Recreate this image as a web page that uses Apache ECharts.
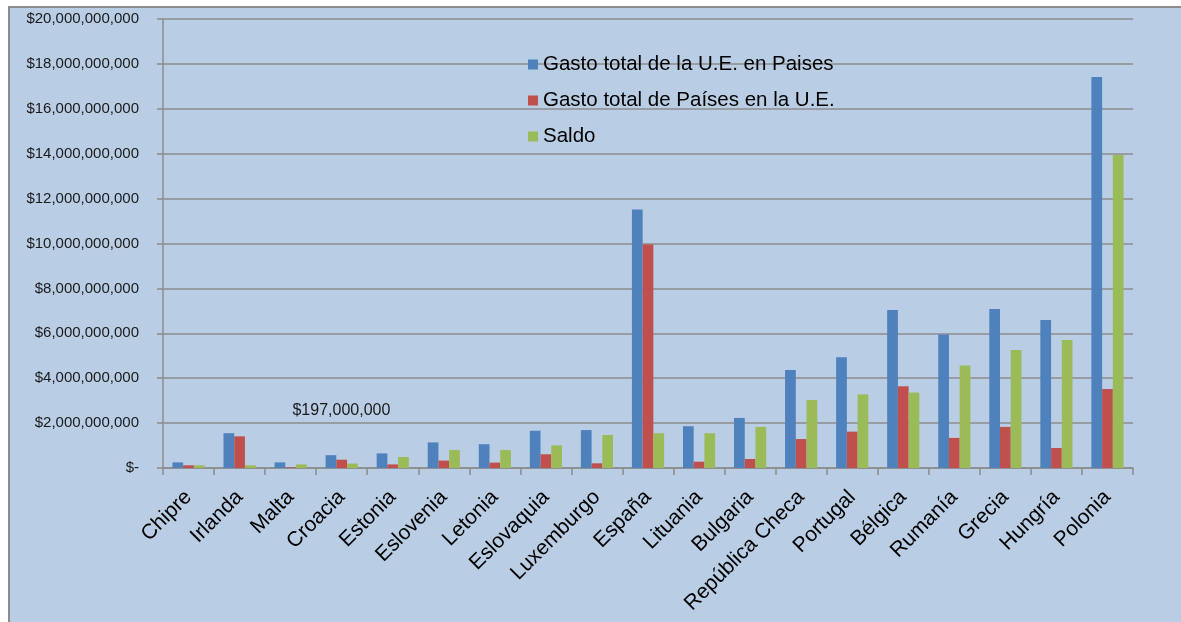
<!DOCTYPE html>
<html>
<head>
<meta charset="utf-8">
<script src="https://cdn.jsdelivr.net/npm/echarts@6/dist/echarts.min.js"></script>
<style>
    body { margin: 0; background: #fff; }
    #main {
        margin-left: 8px;
        margin-top: 6px;
        width: 1171px;
        height: 614px;
        border-left: 2px solid #8c8c8c;
        border-top: 2px solid #8c8c8c;
        background: #b9cde5;
    }
</style>
</head>
<body>
<div id="main"></div>
<script>
const paises = ['Chipre', 'Irlanda', 'Malta', 'Croacia', 'Estonia', 'Eslovenia', 'Letonia', 'Eslovaquia', 'Luxemburgo', 'España',
    'Lituania', 'Bulgaria', 'República Checa', 'Portugal', 'Bélgica', 'Rumanía', 'Grecia', 'Hungría', 'Polonia']

// valores en miles de millones
const gastoUE = [0.25, 1.55, 0.25, 0.57, 0.65, 1.14, 1.06, 1.66, 1.69, 11.52,
    1.86, 2.23, 4.37, 4.93, 7.04, 5.95, 7.08, 6.59, 17.42]
const gastoPaises = [0.12, 1.41, 0.03, 0.37, 0.16, 0.33, 0.24, 0.61, 0.21, 9.96,
    0.28, 0.40, 1.29, 1.62, 3.64, 1.34, 1.83, 0.89, 3.52]
const saldo = [0.12, 0.12, 0.16, 0.197, 0.49, 0.80, 0.80, 1.01, 1.47, 1.55,
    1.55, 1.83, 3.03, 3.28, 3.36, 4.57, 5.26, 5.70, 13.94]

const etiquetaCroacia = '$197,000,000'

const colors = ['#4f81bd', '#c0504d', '#9bbb59']
const names = ['Gasto total de la U.E. en Paises', 'Gasto total de Países en la U.E.', 'Saldo']

const toMoney = v => {
    if (v === 0) return '$-'
    return '$' + Math.round(v * 1e9).toLocaleString('en-US')
}

const myChart = echarts.init(document.getElementById('main'))

const series = [gastoUE, gastoPaises, saldo].map((vals, idx) => {
    return {
        name: names[idx],
        type: 'bar',
        barGap: '0%',
        barCategoryGap: '37%',
        itemStyle: { color: colors[idx] },
        data: vals.map((v, i) => {
            if (idx === 2 && paises[i] === 'Croacia') {
                return {
                    value: v,
                    label: {
                        show: true,
                        position: 'top',
                        offset: [-11, -40],
                        formatter: etiquetaCroacia,
                        color: '#1a1a1a',
                        fontFamily: 'Liberation Sans',
                        fontSize: 16
                    }
                }
            }
            return v
        })
    }
})

const option = {
    animation: false,
    backgroundColor: 'transparent',
    legend: {
        orient: 'vertical',
        left: 513,
        top: 41,
        icon: 'rect',
        itemWidth: 10,
        itemHeight: 10,
        itemGap: 15,
        textStyle: {
            color: '#000',
            fontFamily: 'Liberation Sans',
            fontSize: 20.5,
            lineHeight: 20
        },
        data: names
    },
    grid: {
        left: 153,
        top: 11,
        right: 48,
        bottom: 154
    },
    xAxis: {
        type: 'category',
        data: paises,
        axisLine: { lineStyle: { color: '#8c8c8c', width: 1.5 } },
        axisTick: { show: true, length: 7, lineStyle: { color: '#8c8c8c', width: 1.5 } },
        axisLabel: {
            interval: 0,
            rotate: 45,
            margin: 26,
            color: '#000',
            fontFamily: 'Liberation Sans',
            fontSize: 21
        }
    },
    yAxis: {
        type: 'value',
        min: 0,
        max: 20,
        interval: 2,
        axisLine: { show: true, lineStyle: { color: '#8c8c8c', width: 1.5 } },
        axisTick: { show: true, length: 6, lineStyle: { color: '#8c8c8c', width: 1.5 } },
        axisLabel: {
            margin: 24,
            color: '#1a1a1a',
            fontFamily: 'Liberation Sans',
            fontSize: 15,
            formatter: toMoney
        },
        splitLine: { lineStyle: { color: '#8c8c8c', width: 1.5 } }
    },
    series: series
}

myChart.setOption(option)
</script>
</body>
</html>
